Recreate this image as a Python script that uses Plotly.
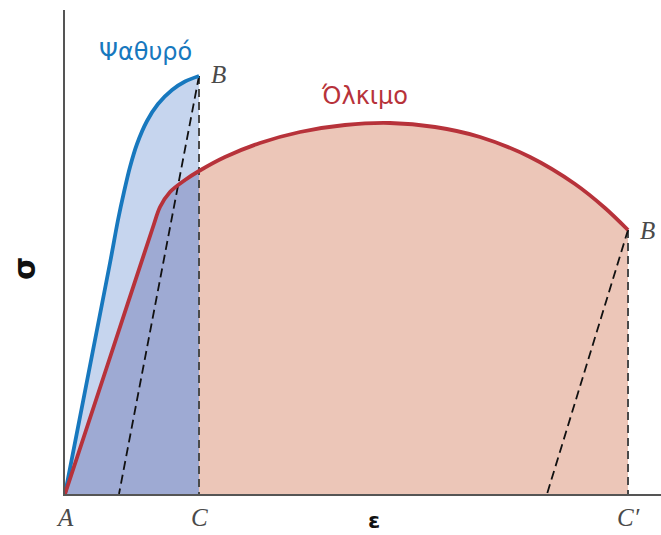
import plotly.graph_objects as go

# Stress-strain curves (arbitrary units): strain on x, stress on y
brittle_strain = [0.00, 0.45, 0.53, 0.59, 0.65, 0.72, 0.82, 0.93, 1.07, 1.20, 1.34]
brittle_stress = [0.00, 2.31, 2.74, 3.02, 3.27, 3.50, 3.73, 3.90, 4.04, 4.125, 4.18]

ductile_strain = [0.00, 0.44, 0.88, 0.95, 1.05, 1.20, 1.34, 1.60, 1.95, 2.35, 2.80,
                  3.25, 3.70, 4.15, 4.65, 5.10, 5.40, 5.63]
ductile_stress = [0.00, 1.335, 2.67, 2.87, 3.02, 3.14, 3.23, 3.37, 3.51, 3.62, 3.69,
                  3.71, 3.67, 3.57, 3.37, 3.10, 2.86, 2.64]

# Elastic unloading lines from the fracture points B down to the strain axis
brittle_unload_x = [1.34, 0.54]
brittle_unload_y = [4.18, 0.00]
ductile_unload_x = [5.63, 4.82]
ductile_unload_y = [2.64, 0.00]

point_labels = ["A", "C", "C′"]
point_label_x = [0.00, 1.34, 5.63]

BLUE = "#1778be"
RED = "#b7323a"
LIGHT_BLUE = "#c6d5ee"
DARK_BLUE = "#9eaad3"
SALMON = "#ecc6b8"

SPLINE = dict(shape="spline", smoothing=0.9)
n_to_c = ductile_strain.index(1.34) + 1

fig = go.Figure()

# Area under ductile curve
fig.add_trace(go.Scatter(x=ductile_strain, y=ductile_stress, mode="lines",
                         line=dict(width=0, **SPLINE),
                         fill="tozeroy", fillcolor=SALMON, hoverinfo="skip"))
# Area under brittle curve
fig.add_trace(go.Scatter(x=brittle_strain, y=brittle_stress, mode="lines",
                         line=dict(width=0, **SPLINE),
                         fill="tozeroy", fillcolor=LIGHT_BLUE, hoverinfo="skip"))
# Overlap: ductile area up to the brittle fracture strain
fig.add_trace(go.Scatter(x=ductile_strain[:n_to_c], y=ductile_stress[:n_to_c], mode="lines",
                         line=dict(width=0, **SPLINE),
                         fill="tozeroy", fillcolor=DARK_BLUE, hoverinfo="skip"))

# Vertical dashed drops from B to C and C'
for xb, yb in [(brittle_strain[-1], brittle_stress[-1]), (ductile_strain[-1], ductile_stress[-1])]:
    fig.add_trace(go.Scatter(x=[xb, xb], y=[yb, 0], mode="lines",
                             line=dict(color="#4a4a4a", width=2, dash="8px,5px"),
                             hoverinfo="skip"))
# Unloading dashed lines
for ux, uy in [(brittle_unload_x, brittle_unload_y), (ductile_unload_x, ductile_unload_y)]:
    fig.add_trace(go.Scatter(x=ux, y=uy, mode="lines",
                             line=dict(color="#111111", width=1.8, dash="9px,5px"),
                             hoverinfo="skip"))

# Curves
fig.add_trace(go.Scatter(x=brittle_strain, y=brittle_stress, mode="lines",
                         line=dict(color=BLUE, width=3.8, **SPLINE)))
fig.add_trace(go.Scatter(x=ductile_strain, y=ductile_stress, mode="lines",
                         line=dict(color=RED, width=3.8, **SPLINE)))

serif = dict(family="Liberation Serif", size=25, color="#4a4a4a")

annotations = [
    dict(x=0.80, y=4.42, text="Ψαθυρό", showarrow=False,
         font=dict(family="DejaVu Sans", size=24, color=BLUE)),
    dict(x=2.99, y=3.98, text="Όλκιμο", showarrow=False,
         font=dict(family="DejaVu Sans", size=24, color=RED)),
    dict(x=brittle_strain[-1], y=brittle_stress[-1], text="<i>B</i>", showarrow=False,
         xanchor="left", xshift=10, yshift=2, font=serif),
    dict(x=ductile_strain[-1], y=ductile_stress[-1], text="<i>B</i>", showarrow=False,
         xanchor="left", xshift=10, yshift=0, font=serif),
    dict(x=0, y=0.465, xref="paper", yref="paper", text="<b>σ</b>", showarrow=False,
         textangle=-90, xanchor="center", xshift=-40,
         font=dict(family="DejaVu Sans", size=30, color="#111111")),
    dict(x=0.518, y=0, xref="paper", yref="paper", text="<b>ε</b>", showarrow=False,
         yanchor="top", yshift=-12,
         font=dict(family="DejaVu Sans", size=22, color="#111111")),
]
for lab, lx in zip(point_labels, point_label_x):
    annotations.append(dict(x=lx, y=0, text="<i>" + lab + "</i>", showarrow=False,
                            yanchor="top", yshift=-8, font=serif))

fig.update_layout(
    width=661, height=535,
    margin=dict(l=65, r=0, t=10, b=41),
    paper_bgcolor="white", plot_bgcolor="white",
    showlegend=False,
    annotations=annotations,
    xaxis=dict(range=[0, 5.96], showgrid=False, zeroline=False, showticklabels=False,
               ticks="", showline=True, linecolor="#555555", linewidth=2, fixedrange=True),
    yaxis=dict(range=[0, 4.84], showgrid=False, zeroline=False, showticklabels=False,
               ticks="", showline=True, linecolor="#555555", linewidth=2, fixedrange=True),
)

fig.write_html("out.html")
